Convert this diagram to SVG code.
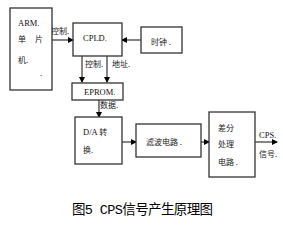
<svg xmlns="http://www.w3.org/2000/svg" width="283" height="225" viewBox="0 0 283 225">
<defs>
<marker id="ah" markerWidth="6" markerHeight="6" refX="5" refY="3" orient="auto" markerUnits="userSpaceOnUse">
<path d="M0,0 L6,3 L0,6 Z" fill="#000"/>
</marker>
</defs>
<style>
.box{fill:#fff;stroke:#333;stroke-width:1.3}
.t{font-family:"Noto Sans CJK SC",sans-serif;font-size:8px;fill:#222}
.e{font-family:"Liberation Serif",serif;font-size:8.5px;fill:#111}
.c{stroke:#222;stroke-width:1.1;fill:none;marker-end:url(#ah)}
.cap{font-family:"Noto Sans CJK SC",sans-serif;font-size:13.5px;fill:#000}
.mono{font-family:"Liberation Mono",monospace}
</style>
<rect width="283" height="225" fill="#fff"/>
<g id="connectors">
<line class="c" x1="52" y1="40" x2="73" y2="40"/>
<line class="c" x1="141" y1="40" x2="122" y2="40"/>
<line class="c" x1="82" y1="56" x2="82" y2="82"/>
<line class="c" x1="107" y1="56" x2="107" y2="82"/>
<line class="c" x1="99" y1="100" x2="99" y2="117"/>
<line class="c" x1="122" y1="142" x2="136" y2="142"/>
<line class="c" x1="201" y1="142" x2="209" y2="142"/>
<line class="c" x1="255" y1="142" x2="277" y2="142"/>
<text class="t" x="51" y="34">控制.</text>
<text class="t" x="85" y="67">控制.</text>
<text class="t" x="112" y="67">地址.</text>
<text class="t" x="100" y="108">数据.</text>
<text class="e" x="259" y="138">CPS.</text>
<text class="t" x="259" y="157">信号.</text>
</g>
<g id="arm">
<rect class="box" x="10" y="8" width="42" height="82"/>
<text class="e" x="18" y="26">ARM.</text>
<text class="t" x="18" y="42">单</text>
<text class="t" x="35" y="42">片</text>
<text class="t" x="18" y="63">机.</text>
<text class="t" x="40" y="76" font-size="5">.</text>
</g>
<g id="cpld">
<rect class="box" x="73" y="23" width="49" height="33"/>
<text class="e" x="83" y="41">CPLD.</text>
</g>
<g id="clock">
<rect class="box" x="141" y="27" width="41" height="26"/>
<text class="t" x="151" y="45">时钟 .</text>
</g>
<g id="eprom">
<rect class="box" x="72" y="83" width="51" height="17"/>
<text class="e" x="84" y="95">EPROM.</text>
</g>
<g id="da">
<rect class="box" x="75" y="117" width="47" height="47"/>
<text class="e" x="83" y="135">D/A  <tspan class="t">转</tspan></text>
<text class="t" x="83" y="153">换.</text>
</g>
<g id="filter">
<rect class="box" x="136" y="124" width="65" height="33"/>
<text class="t" x="146" y="145">滤波电路 .</text>
</g>
<g id="diff">
<rect class="box" x="209" y="112" width="46" height="65"/>
<text class="t" x="218" y="131">差分</text>
<text class="t" x="218" y="147">处理</text>
<text class="t" x="218" y="165">电路 .</text>
</g>
<text class="cap" x="72" y="214" textLength="141">图<tspan class="mono">5 CPS</tspan>信号产生原理图</text>
</svg>
